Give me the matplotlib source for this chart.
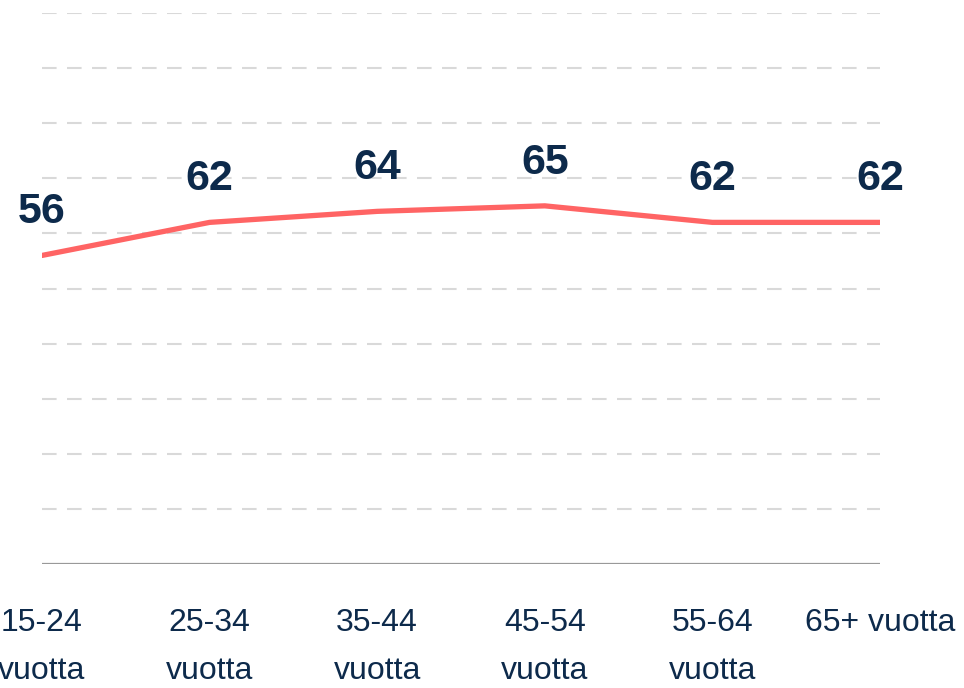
import matplotlib
matplotlib.use("Agg")
import matplotlib.pyplot as plt

## Data
age_groups = ["15-24\nvuotta", "25-34\nvuotta", "35-44\nvuotta", "45-54\nvuotta", "55-64\nvuotta", "65+ vuotta"]
values = [56, 62, 64, 65, 62, 62]

navy = "#0d2a4b"
line_color = "#ff6464"

plt.rcParams["font.family"] = ["Liberation Sans", "DejaVu Sans"]

fig = plt.figure(figsize=(9.64, 6.88), dpi=100)
ax = fig.add_axes([42 / 964, 1 - 564 / 688, (880 - 42) / 964, (564 - 13) / 688])

x = list(range(len(values)))

## Dashed gridlines
for g in range(10, 101, 10):
    ax.axhline(g, color="#d9d9d9", lw=1.5, dashes=(7, 5), zorder=1)
ax.axhline(0, color="#999999", lw=1.6, zorder=2)

## Line and labels
ax.plot(x, values, color=line_color, lw=3.8, solid_capstyle="round", zorder=3)
for xi, v in zip(x, values):
    ax.annotate(str(v), (xi, v), xytext=(0, 23), textcoords="offset points",
                ha="center", va="baseline", fontsize=31, fontweight="bold", color=navy)

ax.set_xlim(0, len(values) - 1)
ax.set_ylim(0, 100)
ax.set_yticks([])
ax.set_xticks(x)
ax.set_xticklabels(age_groups, fontsize=23, color=navy, linespacing=1.75)
ax.tick_params(axis="x", length=0, pad=32)
for s in ax.spines.values():
    s.set_visible(False)

fig.savefig("out.png", dpi=100)
